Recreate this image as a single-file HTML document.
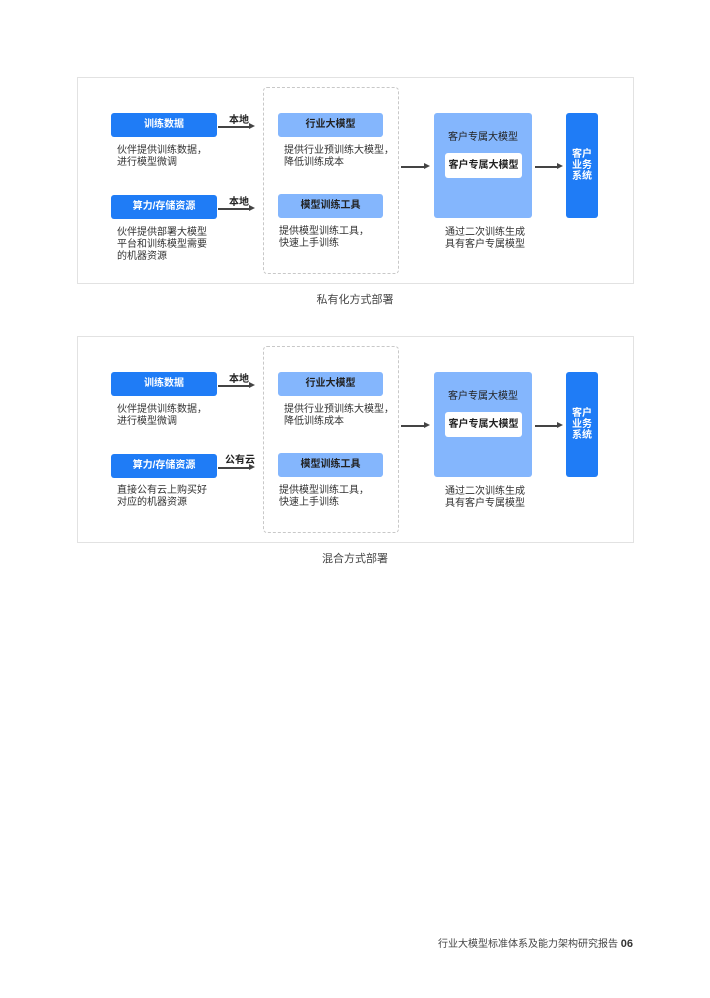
<!DOCTYPE html>
<html><head><meta charset="utf-8"><style>
body{margin:0;width:710px;height:998px;background:#fff;position:relative;font-family:"Liberation Sans","Noto Sans CJK SC",sans-serif;color:#333;}
.d{position:absolute;left:0;width:710px;height:250px;}
.a{position:absolute;}
.outer{left:77px;top:77px;width:555px;height:205px;border:1px solid #e2e2e2;}
.dash{left:263px;top:87px;width:134px;height:185px;border:1px dashed #c8c8c8;border-radius:4px;}
.blue{background:#1f7cf6;color:#fff;border-radius:3px;font-size:10px;text-align:center;font-weight:bold;}
.light{background:#84b6fd;color:#222;border-radius:3px;font-size:10px;text-align:center;font-weight:bold;}
.t{font-size:10px;line-height:12px;color:#333;}
.lab{font-size:10px;font-weight:bold;color:#222;}
.ln{height:1.5px;background:#444;}
.ah{width:0;height:0;border-left:6px solid #444;border-top:3.5px solid transparent;border-bottom:3.5px solid transparent;}
.cap{font-size:11px;color:#444;width:710px;text-align:center;left:0;}
</style></head><body>

<div class="d" style="top:0">
<div class="a outer"></div>
<div class="a dash"></div>
<div class="a blue" style="left:111px;top:113px;width:106px;height:24px;line-height:24px;">训练数据</div>
<div class="a t" style="left:117px;top:145px;">伙伴提供训练数据，<br>进行模型微调</div>
<div class="a lab" style="left:229px;top:111px;">本地</div>
<div class="a ln" style="left:218px;top:126px;width:32px;"></div><div class="a ah" style="left:249px;top:123px;"></div>
<div class="a blue" style="left:111px;top:195px;width:106px;height:24px;line-height:24px;">算力/存储资源</div>
<div class="a t" style="left:117px;top:227px;">伙伴提供部署大模型<br>平台和训练模型需要<br>的机器资源</div>
<div class="a lab" style="left:229px;top:193px;">本地</div>
<div class="a ln" style="left:218px;top:208px;width:32px;"></div><div class="a ah" style="left:249px;top:205px;"></div>
<div class="a light" style="left:278px;top:113px;width:105px;height:24px;line-height:24px;">行业大模型</div>
<div class="a t" style="left:284px;top:145px;">提供行业预训练大模型，<br>降低训练成本</div>
<div class="a light" style="left:278px;top:194px;width:105px;height:24px;line-height:24px;">模型训练工具</div>
<div class="a t" style="left:279px;top:226px;">提供模型训练工具，<br>快速上手训练</div>
<div class="a ln" style="left:401px;top:166px;width:24px;"></div><div class="a ah" style="left:424px;top:163px;"></div>
<div class="a" style="left:434px;top:113px;width:98px;height:105px;background:#84b6fd;border-radius:3px;"></div>
<div class="a" style="left:434px;top:128px;width:98px;text-align:center;font-size:10px;color:#222;">客户专属大模型</div>
<div class="a" style="left:445px;top:153px;width:77px;height:25px;line-height:25px;background:#fff;border-radius:3px;text-align:center;font-size:10px;font-weight:bold;color:#222;">客户专属大模型</div>
<div class="a t" style="left:445px;top:227px;">通过二次训练生成<br>具有客户专属模型</div>
<div class="a ln" style="left:535px;top:166px;width:23px;"></div><div class="a ah" style="left:557px;top:163px;"></div>
<div class="a blue" style="left:566px;top:113px;width:32px;height:105px;"><div style="padding-top:36px;line-height:11px;">客户<br>业务<br>系统</div></div>
<div class="a cap" style="top:291px;">私有化方式部署</div>
</div>

<div class="d" style="top:259px">
<div class="a outer"></div>
<div class="a dash"></div>
<div class="a blue" style="left:111px;top:113px;width:106px;height:24px;line-height:24px;">训练数据</div>
<div class="a t" style="left:117px;top:145px;">伙伴提供训练数据，<br>进行模型微调</div>
<div class="a lab" style="left:229px;top:111px;">本地</div>
<div class="a ln" style="left:218px;top:126px;width:32px;"></div><div class="a ah" style="left:249px;top:123px;"></div>
<div class="a blue" style="left:111px;top:195px;width:106px;height:24px;line-height:24px;">算力/存储资源</div>
<div class="a t" style="left:117px;top:226px;">直接公有云上购买好<br>对应的机器资源</div>
<div class="a lab" style="left:225px;top:192px;">公有云</div>
<div class="a ln" style="left:218px;top:208px;width:32px;"></div><div class="a ah" style="left:249px;top:205px;"></div>
<div class="a light" style="left:278px;top:113px;width:105px;height:24px;line-height:24px;">行业大模型</div>
<div class="a t" style="left:284px;top:145px;">提供行业预训练大模型，<br>降低训练成本</div>
<div class="a light" style="left:278px;top:194px;width:105px;height:24px;line-height:24px;">模型训练工具</div>
<div class="a t" style="left:279px;top:226px;">提供模型训练工具，<br>快速上手训练</div>
<div class="a ln" style="left:401px;top:166px;width:24px;"></div><div class="a ah" style="left:424px;top:163px;"></div>
<div class="a" style="left:434px;top:113px;width:98px;height:105px;background:#84b6fd;border-radius:3px;"></div>
<div class="a" style="left:434px;top:128px;width:98px;text-align:center;font-size:10px;color:#222;">客户专属大模型</div>
<div class="a" style="left:445px;top:153px;width:77px;height:25px;line-height:25px;background:#fff;border-radius:3px;text-align:center;font-size:10px;font-weight:bold;color:#222;">客户专属大模型</div>
<div class="a t" style="left:445px;top:227px;">通过二次训练生成<br>具有客户专属模型</div>
<div class="a ln" style="left:535px;top:166px;width:23px;"></div><div class="a ah" style="left:557px;top:163px;"></div>
<div class="a blue" style="left:566px;top:113px;width:32px;height:105px;"><div style="padding-top:36px;line-height:11px;">客户<br>业务<br>系统</div></div>
<div class="a cap" style="top:291px;">混合方式部署</div>
</div>

<div class="a" style="right:77px;top:935px;font-size:10px;color:#444;">行业大模型标准体系及能力架构研究报告 <b style="font-size:11px;color:#333;">06</b></div>
</body></html>
